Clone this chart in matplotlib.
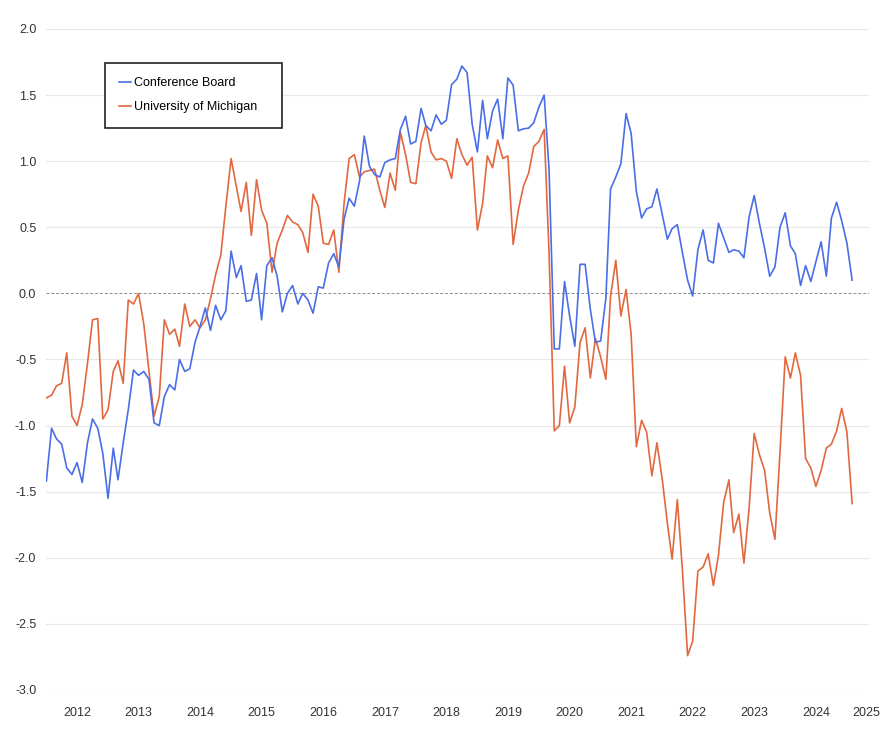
import numpy as np
import pandas as pd
import matplotlib
matplotlib.use("Agg")
import matplotlib.pyplot as plt

# monthly, Jan 2012 - Feb 2025 (standardised readings)
months = pd.date_range("2012-01-01", "2025-02-01", freq="MS")

conference_board = [
    -1.42, -1.02, -1.10, -1.14, -1.32, -1.37, -1.28, -1.43, -1.13, -0.95, -1.02, -1.21,  # 2012
    -1.55, -1.17, -1.41, -1.13, -0.88, -0.58, -0.62, -0.59, -0.65, -0.98, -1.00, -0.78,  # 2013
    -0.69, -0.73, -0.50, -0.59, -0.57, -0.37, -0.25, -0.11, -0.28, -0.09, -0.20, -0.13,  # 2014
    0.32, 0.12, 0.21, -0.06, -0.05, 0.15, -0.20, 0.21, 0.27, 0.13, -0.14, 0.00,  # 2015
    0.06, -0.08, 0.00, -0.05, -0.15, 0.05, 0.04, 0.23, 0.30, 0.20, 0.56, 0.72,  # 2016
    0.66, 0.85, 1.19, 0.96, 0.90, 0.88, 0.99, 1.01, 1.02, 1.24, 1.34, 1.13,  # 2017
    1.15, 1.40, 1.27, 1.23, 1.35, 1.28, 1.31, 1.58, 1.62, 1.72, 1.67, 1.28,  # 2018
    1.07, 1.46, 1.17, 1.38, 1.47, 1.17, 1.63, 1.575, 1.23, 1.245, 1.25, 1.29,  # 2019
    1.41, 1.50, 0.94, -0.42, -0.42, 0.09, -0.17, -0.40, 0.22, 0.22, -0.12, -0.37,  # 2020
    -0.36, -0.04, 0.79, 0.88, 0.98, 1.36, 1.21, 0.77, 0.57, 0.64, 0.655, 0.79,  # 2021
    0.60, 0.41, 0.49, 0.52, 0.31, 0.10, -0.02, 0.33, 0.48, 0.25, 0.23, 0.53,  # 2022
    0.42, 0.31, 0.33, 0.32, 0.27, 0.58, 0.74, 0.53, 0.34, 0.13, 0.20, 0.50,  # 2023
    0.61, 0.36, 0.30, 0.06, 0.21, 0.09, 0.24, 0.39, 0.13, 0.57, 0.69, 0.55,  # 2024
    0.38, 0.10,  # 2025
]

michigan = [
    -0.79, -0.77, -0.70, -0.68, -0.45, -0.93, -1.00, -0.84, -0.53, -0.20, -0.19, -0.95,  # 2012
    -0.88, -0.59, -0.51, -0.68, -0.05, -0.08, 0.00, -0.23, -0.59, -0.93, -0.78, -0.20,  # 2013
    -0.31, -0.27, -0.40, -0.08, -0.25, -0.20, -0.26, -0.20, -0.04, 0.14, 0.29, 0.66,  # 2014
    1.02, 0.81, 0.62, 0.84, 0.44, 0.86, 0.63, 0.53, 0.16, 0.38, 0.48, 0.59,  # 2015
    0.54, 0.52, 0.46, 0.31, 0.75, 0.66, 0.38, 0.37, 0.48, 0.16, 0.68, 1.02,  # 2016
    1.05, 0.88, 0.92, 0.93, 0.94, 0.78, 0.65, 0.91, 0.78, 1.22, 1.05, 0.84,  # 2017
    0.83, 1.14, 1.27, 1.07, 1.01, 1.02, 1.00, 0.87, 1.17, 1.05, 0.97, 1.03,  # 2018
    0.48, 0.68, 1.04, 0.95, 1.16, 1.02, 1.04, 0.37, 0.63, 0.81, 0.91, 1.11,  # 2019
    1.15, 1.24, 0.31, -1.04, -1.00, -0.55, -0.98, -0.86, -0.37, -0.26, -0.64, -0.34,  # 2020
    -0.48, -0.65, -0.02, 0.25, -0.17, 0.03, -0.31, -1.16, -0.96, -1.05, -1.38, -1.13,  # 2021
    -1.40, -1.74, -2.01, -1.56, -2.09, -2.74, -2.63, -2.10, -2.07, -1.97, -2.21, -1.98,  # 2022
    -1.58, -1.41, -1.81, -1.67, -2.04, -1.62, -1.06, -1.22, -1.34, -1.66, -1.86, -1.20,  # 2023
    -0.48, -0.64, -0.45, -0.62, -1.25, -1.32, -1.46, -1.34, -1.17, -1.14, -1.04, -0.87,  # 2024
    -1.05, -1.59,  # 2025
]

years = list(range(2012, 2026))
y_ticks = [2.0, 1.5, 1.0, 0.5, 0.0, -0.5, -1.0, -1.5, -2.0, -2.5, -3.0]

blue = "#4a6ee6"
orange = "#e2683f"

plt.rcParams["font.family"] = ["Liberation Sans", "DejaVu Sans"]

fig = plt.figure(figsize=(8.92, 7.38), dpi=100)
ax = fig.add_axes([46 / 892, 48 / 738, 823 / 892, 661 / 738])

for v in y_ticks:
    if v == 0:
        ax.axhline(v, color="#8a8a8a", lw=0.7, ls=(0, (3, 2)), zorder=1)
    else:
        ax.axhline(v, color="#e8e8e8", lw=0.9, zorder=0)

ax.plot(months, conference_board, color=blue, lw=1.2, label="Conference Board", zorder=3)
ax.plot(months, michigan, color=orange, lw=1.2, label="University of Michigan", zorder=2)

ax.set_ylim(-3.0, 2.0)
ax.set_xlim(pd.Timestamp("2011-12-30"), pd.Timestamp("2025-05-12"))

ax.set_yticks(y_ticks)
ax.set_yticklabels([f"{v:.1f}" for v in y_ticks])
tick_pos = [pd.Timestamp(f"{y}-07-01") for y in years[:-1]] + [pd.Timestamp("2025-04-25")]
ax.set_xticks(tick_pos)
ax.set_xticklabels([str(y) for y in years])

ax.tick_params(axis="both", length=0, labelsize=9, colors="#333333")
ax.tick_params(axis="y", pad=7)
ax.tick_params(axis="x", pad=12)
for s in ax.spines.values():
    s.set_visible(False)

leg = ax.legend(loc="upper left", bbox_to_anchor=(59 / 823, 1 - 98 / 661, 177 / 823, 64 / 661),
                mode="expand", borderaxespad=0, fontsize=9, handlelength=0.9, handletextpad=0.3,
                borderpad=1.15, labelspacing=0.95, fancybox=False, framealpha=1)
leg.get_frame().set_edgecolor("#222222")
leg.get_frame().set_linewidth(1.2)

fig.savefig("out.png", dpi=100)
